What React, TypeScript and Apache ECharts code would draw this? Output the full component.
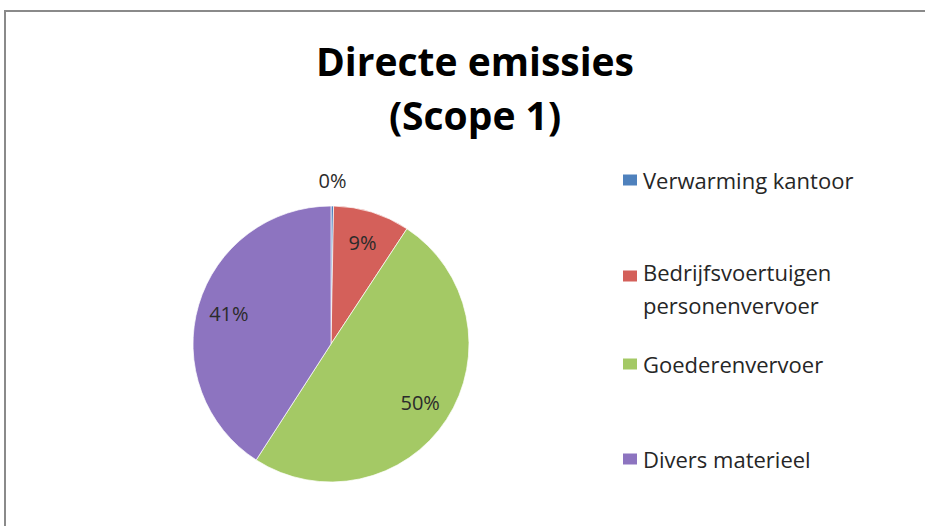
import React, { useEffect, useRef } from "react";
import * as echarts from "echarts";

const titleText = "Directe emissies\n(Scope 1)";
const categories = [
  "Verwarming kantoor",
  "Bedrijfsvoertuigen personenvervoer",
  "Goederenvervoer",
  "Divers materieel",
];
const legendLabels = [
  "Verwarming kantoor",
  "Bedrijfsvoertuigen\npersonenvervoer",
  "Goederenvervoer",
  "Divers materieel",
];
const values = [0.3, 9, 50, 41];
const colors = ["#4F81BD", "#D4605A", "#A4C965", "#8D74C0"];

const legendTops = [158.5, 250.5, 342.5, 437.5];

export default function App() {
  const ref = useRef<HTMLDivElement>(null);
  useEffect(() => {
    document.body.style.margin = "0";
    document.documentElement.style.overflow = "hidden";
    if (!ref.current) return;
    const chart = echarts.init(ref.current, null, { renderer: "svg" });
    const data = categories.map((name, i) => ({
      name,
      value: values[i],
      itemStyle: { color: colors[i] },
    }));
    const fmt = (p: any) => `${Math.round(p.percent)}%`;
    const legends = categories.map((name, i) => ({
      orient: "vertical",
      left: 618,
      top: legendTops[i],
      itemWidth: 14,
      itemHeight: i === 1 ? 44 : 11,
      icon:
        i === 1
          ? "path://M0,0H14V0.01H0Z M0,4H14V15H0Z M0,44H14V44.01H0Z"
          : "rect",
      selectedMode: false,
      itemStyle: { borderWidth: 0 },
      data: [
        {
          name,
          textStyle: { padding: [0, 0, 0, 1] },
        },
      ],
      formatter: () => legendLabels[i],
      textStyle: {
        fontFamily: "Open Sans",
        fontSize: 22,
        color: "#262626",
        lineHeight: 33,
      },
    }));
    chart.setOption({
      animation: false,
      backgroundColor: "#ffffff",
      title: {
        text: titleText,
        left: 470,
        top: 28,
        textAlign: "center",
        textStyle: {
          fontFamily: "Open Sans",
          fontWeight: "bold",
          fontSize: 39,
          lineHeight: 54,
          color: "#000000",
        },
      },
      legend: legends,
      graphic: [
        {
          type: "line",
          silent: true,
          shape: { x1: 5, y1: 10, x2: 5, y2: 526 },
          style: { stroke: "#8a8a8a", lineWidth: 2 },
        },
        {
          type: "line",
          silent: true,
          shape: { x1: 4, y1: 11, x2: 925, y2: 11 },
          style: { stroke: "#8a8a8a", lineWidth: 2 },
        },
      ],
      series: [
        {
          type: "pie",
          center: [331, 344],
          radius: [0, 138],
          startAngle: 90,
          clockwise: true,
          silent: true,
          label: { show: false },
          labelLine: { show: false },
          itemStyle: {
            borderColor: "rgba(255,255,255,0.7)",
            borderWidth: 1,
          },
          data,
        },
        {
          type: "pie",
          center: [331, 344],
          radius: [69, 138],
          startAngle: 90,
          clockwise: true,
          silent: true,
          itemStyle: { color: "rgba(0,0,0,0)", borderWidth: 0 },
          labelLine: { show: false },
          label: {
            show: true,
            position: "inside",
            formatter: fmt,
            fontFamily: "Open Sans",
            fontSize: 20,
            color: "#2b2b2b",
          },
          data: categories.map((name, i) => ({
            name,
            value: values[i],
            label: { show: i !== 0 },
          })),
        },
        {
          type: "pie",
          center: [331, 344],
          radius: [138, 184],
          startAngle: 90,
          clockwise: true,
          silent: true,
          itemStyle: { color: "rgba(0,0,0,0)", borderWidth: 0 },
          labelLine: { show: false },
          label: {
            show: true,
            position: "inside",
            formatter: fmt,
            fontFamily: "Open Sans",
            fontSize: 20,
            color: "#2b2b2b",
          },
          data: categories.map((name, i) => ({
            name,
            value: values[i],
            label: { show: i === 0 },
          })),
        },
      ],
    });
    return () => chart.dispose();
  }, []);
  return <div ref={ref} style={{ width: 925, height: 526 }} />;
}
